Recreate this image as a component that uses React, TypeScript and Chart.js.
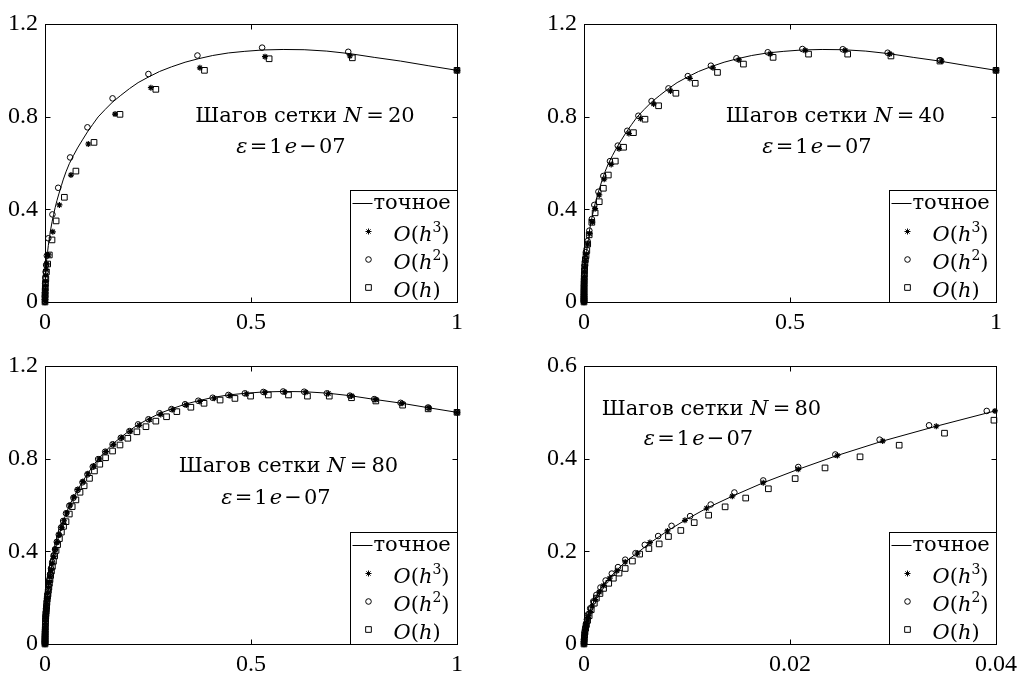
import React, { useEffect, useRef } from "react";
import { Chart, registerables } from "chart.js";
import { drawPoint } from "chart.js/helpers";

Chart.register(...registerables);

// ---------- tick labels ----------
const X_TICKS_FULL = [0, 0.5, 1];
const X_LABELS_FULL = ["0", "0.5", "1"];
const Y_TICKS_FULL = [0, 0.4, 0.8, 1.2];
const Y_LABELS_FULL = ["0", "0.4", "0.8", "1.2"];
const X_TICKS_ZOOM = [0, 0.02, 0.04];
const X_LABELS_ZOOM = ["0", "0.02", "0.04"];
const Y_TICKS_ZOOM = [0, 0.2, 0.4, 0.6];
const Y_LABELS_ZOOM = ["0", "0.2", "0.4", "0.6"];

const LEGEND_LABELS = ["точное", "O(h^3)", "O(h^2)", "O(h)"];

// ---------- exact solution ----------
const EXACT_X = [0, 0.000005, 0.00002, 0.00005, 0.00012, 0.00024, 0.00045, 0.0008, 0.0011, 0.0015, 0.0019, 0.0025, 0.0032, 0.004, 0.0052, 0.0064, 0.0081, 0.0098, 0.0119, 0.0144, 0.0174, 0.0208, 0.0246, 0.029, 0.0342, 0.0399, 0.044, 0.051, 0.059, 0.069, 0.079, 0.091, 0.103, 0.116, 0.129, 0.146, 0.164, 0.184, 0.205, 0.226, 0.251, 0.278, 0.307, 0.34, 0.372, 0.407, 0.445, 0.485, 0.53, 0.578, 0.629, 0.684, 0.74, 0.799, 0.863, 0.93, 1];
const EXACT_Y = [0, 0.004, 0.011, 0.02, 0.032, 0.045, 0.062, 0.084, 0.098, 0.115, 0.128, 0.143, 0.16, 0.177, 0.197, 0.218, 0.244, 0.267, 0.293, 0.319, 0.348, 0.377, 0.407, 0.438, 0.47, 0.503, 0.527, 0.562, 0.597, 0.632, 0.665, 0.7, 0.734, 0.767, 0.799, 0.831, 0.863, 0.892, 0.921, 0.947, 0.971, 0.995, 1.015, 1.035, 1.05, 1.064, 1.075, 1.082, 1.088, 1.09, 1.089, 1.083, 1.072, 1.056, 1.04, 1.02, 1];

// ---------- N = 20 ----------
const S20_X = [0, 0.00001, 0.00003, 0.0001, 0.0002, 0.0004, 0.0008, 0.0015, 0.0027, 0.0045, 0.0087, 0.019, 0.035, 0.063, 0.105, 0.17, 0.257, 0.376, 0.534, 0.74, 1];
const S20_Y = [0, 0.01, 0.02, 0.035, 0.05, 0.07, 0.09, 0.115, 0.14, 0.165, 0.203, 0.303, 0.419, 0.548, 0.682, 0.811, 0.925, 1.011, 1.059, 1.062, 1];
const C20_X = [0, 0.00001, 0.00003, 0.0001, 0.0002, 0.0004, 0.0008, 0.0015, 0.0027, 0.0045, 0.008, 0.018, 0.032, 0.061, 0.103, 0.164, 0.251, 0.37, 0.527, 0.736, 1];
const C20_Y = [0, 0.012, 0.025, 0.04, 0.06, 0.08, 0.105, 0.13, 0.16, 0.2, 0.275, 0.378, 0.493, 0.624, 0.754, 0.879, 0.984, 1.064, 1.098, 1.08, 1];
const Q20_X = [0, 0.0001, 0.0002, 0.0004, 0.0007, 0.0012, 0.002, 0.0035, 0.0065, 0.0105, 0.017, 0.027, 0.047, 0.075, 0.119, 0.182, 0.269, 0.387, 0.544, 0.746, 1];
const Q20_Y = [0, 0.02, 0.03, 0.045, 0.06, 0.08, 0.1, 0.13, 0.164, 0.203, 0.268, 0.35, 0.452, 0.565, 0.689, 0.81, 0.918, 1, 1.05, 1.054, 1];

// ---------- N = 40 ----------
const S40_X = [0, 0.0000001, 0.0000005, 0.000001, 0.000003, 0.000006, 0.00001, 0.00002, 0.000035, 0.00006, 0.0001, 0.00016, 0.00025, 0.0004, 0.0006, 0.0009, 0.0014, 0.002, 0.003, 0.0047, 0.009, 0.0135, 0.02, 0.027, 0.037, 0.049, 0.066, 0.085, 0.109, 0.137, 0.169, 0.21, 0.257, 0.313, 0.376, 0.452, 0.537, 0.634, 0.742, 0.868, 1];
const S40_Y = [0, 0.001, 0.003, 0.005, 0.008, 0.012, 0.016, 0.022, 0.029, 0.036, 0.045, 0.055, 0.066, 0.08, 0.093, 0.11, 0.13, 0.15, 0.178, 0.205, 0.25, 0.295, 0.345, 0.403, 0.462, 0.53, 0.594, 0.662, 0.727, 0.792, 0.855, 0.911, 0.965, 1.011, 1.045, 1.071, 1.086, 1.086, 1.071, 1.04, 1];
const C40_X = [0, 0.0000001, 0.0000005, 0.000001, 0.000003, 0.000006, 0.00001, 0.00002, 0.000035, 0.00006, 0.0001, 0.00016, 0.00025, 0.0004, 0.0006, 0.0009, 0.0014, 0.002, 0.003, 0.0045, 0.0085, 0.013, 0.019, 0.025, 0.035, 0.047, 0.063, 0.082, 0.105, 0.132, 0.164, 0.205, 0.252, 0.308, 0.37, 0.446, 0.53, 0.628, 0.737, 0.864, 1];
const C40_Y = [0, 0.002, 0.004, 0.006, 0.01, 0.014, 0.018, 0.025, 0.032, 0.04, 0.05, 0.06, 0.072, 0.087, 0.1, 0.118, 0.138, 0.158, 0.185, 0.215, 0.263, 0.308, 0.358, 0.419, 0.476, 0.544, 0.608, 0.675, 0.739, 0.804, 0.867, 0.922, 0.975, 1.02, 1.052, 1.078, 1.092, 1.091, 1.076, 1.044, 1];
const Q40_X = [0, 0.000001, 0.000004, 0.00001, 0.00002, 0.00004, 0.00007, 0.00012, 0.0002, 0.00032, 0.0005, 0.00075, 0.0011, 0.0016, 0.0023, 0.0033, 0.005, 0.0068, 0.009, 0.0126, 0.019, 0.027, 0.037, 0.047, 0.059, 0.076, 0.096, 0.12, 0.148, 0.181, 0.223, 0.27, 0.324, 0.387, 0.459, 0.545, 0.64, 0.745, 0.864, 1];
const Q40_Y = [0, 0.008, 0.016, 0.025, 0.034, 0.044, 0.055, 0.066, 0.078, 0.09, 0.104, 0.118, 0.134, 0.15, 0.166, 0.183, 0.2, 0.222, 0.25, 0.29, 0.344, 0.385, 0.433, 0.491, 0.548, 0.608, 0.668, 0.731, 0.789, 0.847, 0.901, 0.944, 0.991, 1.027, 1.056, 1.07, 1.07, 1.062, 1.04, 1];

// ---------- N = 80 (full range and zoomed panel) ----------
const S80_X = [0, 0.000002, 0.000005, 0.00001, 0.00002, 0.00003, 0.00005, 0.00008, 0.00012, 0.00017, 0.00024, 0.00033, 0.00045, 0.0006, 0.0008, 0.0011, 0.0015, 0.0019, 0.0025, 0.0032, 0.004, 0.0052, 0.0064, 0.0081, 0.0098, 0.0119, 0.0144, 0.0174, 0.0208, 0.0246, 0.029, 0.0342, 0.0399, 0.046, 0.053, 0.061, 0.07, 0.08, 0.092, 0.104, 0.118, 0.132, 0.148, 0.166, 0.186, 0.207, 0.229, 0.254, 0.281, 0.31, 0.343, 0.376, 0.411, 0.449, 0.489, 0.534, 0.582, 0.633, 0.688, 0.744, 0.803, 0.867, 0.932, 1];
const S80_Y = [0, 0.002, 0.004, 0.007, 0.011, 0.014, 0.019, 0.025, 0.031, 0.037, 0.044, 0.052, 0.061, 0.07, 0.082, 0.096, 0.112, 0.126, 0.142, 0.158, 0.177, 0.196, 0.219, 0.244, 0.267, 0.293, 0.319, 0.348, 0.377, 0.407, 0.438, 0.47, 0.503, 0.532, 0.566, 0.6, 0.634, 0.667, 0.701, 0.735, 0.768, 0.799, 0.83, 0.861, 0.89, 0.918, 0.944, 0.968, 0.991, 1.012, 1.032, 1.047, 1.061, 1.072, 1.08, 1.086, 1.088, 1.087, 1.081, 1.071, 1.055, 1.039, 1.019, 1];
const C80_X = [0, 0.000003, 0.00001, 0.00003, 0.00006, 0.00011, 0.00018, 0.00028, 0.0004, 0.0006, 0.0009, 0.0012, 0.0016, 0.0021, 0.0027, 0.0033, 0.004, 0.005, 0.0059, 0.0072, 0.0085, 0.0103, 0.0123, 0.0146, 0.0174, 0.0208, 0.0244, 0.0287, 0.0335, 0.0391, 0.044, 0.051, 0.059, 0.069, 0.079, 0.091, 0.103, 0.116, 0.129, 0.146, 0.164, 0.184, 0.205, 0.226, 0.251, 0.278, 0.307, 0.34, 0.372, 0.407, 0.445, 0.485, 0.53, 0.578, 0.629, 0.684, 0.74, 0.799, 0.863, 0.93, 1];
const C80_Y = [0, 0.005, 0.01, 0.018, 0.026, 0.034, 0.043, 0.053, 0.064, 0.077, 0.092, 0.106, 0.122, 0.137, 0.152, 0.166, 0.182, 0.196, 0.214, 0.233, 0.255, 0.276, 0.301, 0.327, 0.353, 0.382, 0.409, 0.441, 0.472, 0.503, 0.531, 0.564, 0.597, 0.631, 0.665, 0.698, 0.732, 0.765, 0.798, 0.83, 0.862, 0.89, 0.919, 0.948, 0.97, 0.996, 1.014, 1.035, 1.05, 1.063, 1.075, 1.082, 1.088, 1.09, 1.089, 1.082, 1.072, 1.057, 1.041, 1.021, 1];
const Q80_X = [0, 0.00001, 0.00003, 0.00006, 0.0001, 0.00016, 0.00024, 0.00035, 0.0005, 0.0007, 0.001, 0.0012, 0.00155, 0.0019, 0.0024, 0.00285, 0.0034, 0.004, 0.0047, 0.0054, 0.0063, 0.0073, 0.0082, 0.0094, 0.0107, 0.0121, 0.0137, 0.0157, 0.0179, 0.0205, 0.0234, 0.0268, 0.0306, 0.035, 0.0398, 0.045, 0.051, 0.059, 0.066, 0.075, 0.085, 0.095, 0.108, 0.12, 0.133, 0.147, 0.164, 0.182, 0.201, 0.223, 0.245, 0.269, 0.295, 0.32, 0.354, 0.386, 0.425, 0.461, 0.499, 0.542, 0.591, 0.637, 0.69, 0.744, 0.803, 0.868, 0.93, 1];
const Q80_Y = [0, 0.006, 0.012, 0.019, 0.026, 0.034, 0.042, 0.051, 0.061, 0.074, 0.088, 0.099, 0.109, 0.12, 0.131, 0.142, 0.153, 0.163, 0.179, 0.194, 0.206, 0.216, 0.232, 0.245, 0.262, 0.278, 0.296, 0.315, 0.335, 0.357, 0.38, 0.404, 0.429, 0.455, 0.483, 0.508, 0.528, 0.561, 0.593, 0.622, 0.655, 0.683, 0.715, 0.747, 0.776, 0.804, 0.833, 0.859, 0.888, 0.916, 0.938, 0.962, 0.981, 1.003, 1.022, 1.039, 1.053, 1.06, 1.07, 1.075, 1.075, 1.07, 1.07, 1.063, 1.049, 1.031, 1.015, 1];

// ---------- styling ----------
const TEXT_FONT = '"DejaVu Serif", "Liberation Serif", serif';
const TICK_FONT = '"Liberation Serif", "DejaVu Serif", serif';
const TEXT_SIZE = 21;

type Seg = { t: string; it?: boolean; sup?: boolean };

function segFont(s: Seg, size: number) {
  const sz = s.sup ? Math.round(size * 0.66) : size;
  return `${s.it ? "italic " : ""}${sz}px ${TEXT_FONT}`;
}

function drawRich(ctx: CanvasRenderingContext2D, segs: Seg[], x: number, y: number, align: "left" | "center", size: number) {
  let total = 0;
  for (const s of segs) {
    ctx.font = segFont(s, size);
    total += ctx.measureText(s.t).width;
  }
  let cx = align === "center" ? x - total / 2 : x;
  ctx.textAlign = "left";
  ctx.textBaseline = "alphabetic";
  for (const s of segs) {
    ctx.font = segFont(s, size);
    ctx.fillText(s.t, cx, s.sup ? y - size * 0.4 : y);
    cx += ctx.measureText(s.t).width;
  }
}

function orderSegs(label: string): Seg[] {
  const m = label.match(/^O\(h(?:\^(\d))?\)$/);
  if (!m) return [{ t: label }];
  const segs: Seg[] = [{ t: "O", it: true }, { t: "(" }, { t: "h", it: true }];
  if (m[1]) segs.push({ t: m[1], sup: true });
  segs.push({ t: ")" });
  return segs;
}

const pts = (xs: number[], ys: number[]) => xs.map((x, i) => ({ x, y: ys[i] }));

interface PanelCfg {
  left: number;
  top: number;
  w: number;
  h: number;
  area: { left: number; top: number; right: number; bottom: number };
  xMax: number;
  yMax: number;
  xTicks: number[];
  xLabels: string[];
  yTicks: number[];
  yLabels: string[];
  stars: [number[], number[]];
  circles: [number[], number[]];
  squares: [number[], number[]];
  n: string;
  t1: { x: number; y: number };
  t2: { x: number; y: number };
}

const PANELS: PanelCfg[] = [
  {
    left: 0, top: 0, w: 512, h: 337,
    area: { left: 45, top: 24, right: 457, bottom: 302 },
    xMax: 1, yMax: 1.2,
    xTicks: X_TICKS_FULL, xLabels: X_LABELS_FULL, yTicks: Y_TICKS_FULL, yLabels: Y_LABELS_FULL,
    stars: [S20_X, S20_Y], circles: [C20_X, C20_Y], squares: [Q20_X, Q20_Y],
    n: "20", t1: { x: 305, y: 122 }, t2: { x: 291, y: 153 },
  },
  {
    left: 512, top: 0, w: 513, h: 337,
    area: { left: 72, top: 24, right: 484, bottom: 302 },
    xMax: 1, yMax: 1.2,
    xTicks: X_TICKS_FULL, xLabels: X_LABELS_FULL, yTicks: Y_TICKS_FULL, yLabels: Y_LABELS_FULL,
    stars: [S40_X, S40_Y], circles: [C40_X, C40_Y], squares: [Q40_X, Q40_Y],
    n: "40", t1: { x: 323.5, y: 122 }, t2: { x: 305, y: 153 },
  },
  {
    left: 0, top: 337, w: 512, h: 338,
    area: { left: 45, top: 29, right: 457, bottom: 307 },
    xMax: 1, yMax: 1.2,
    xTicks: X_TICKS_FULL, xLabels: X_LABELS_FULL, yTicks: Y_TICKS_FULL, yLabels: Y_LABELS_FULL,
    stars: [S80_X, S80_Y], circles: [C80_X, C80_Y], squares: [Q80_X, Q80_Y],
    n: "80", t1: { x: 288.5, y: 135 }, t2: { x: 276, y: 166.5 },
  },
  {
    left: 512, top: 337, w: 513, h: 338,
    area: { left: 72, top: 29, right: 484, bottom: 307 },
    xMax: 0.04, yMax: 0.6,
    xTicks: X_TICKS_ZOOM, xLabels: X_LABELS_ZOOM, yTicks: Y_TICKS_ZOOM, yLabels: Y_LABELS_ZOOM,
    stars: [S80_X, S80_Y], circles: [C80_X, C80_Y], squares: [Q80_X, Q80_Y],
    n: "80", t1: { x: 199.5, y: 78 }, t2: { x: 186.5, y: 108 },
  },
];

const STAR_PT = { pointStyle: "star", radius: 3, borderWidth: 1.2, rotation: 0 };
const CIRCLE_PT = { pointStyle: "circle", radius: 2.8, borderWidth: 1, rotation: 0 };
const SQUARE_PT = { pointStyle: "rect", radius: 4, borderWidth: 1, rotation: 0 };

function Panel({ cfg }: { cfg: PanelCfg }) {
  const ref = useRef<HTMLCanvasElement>(null);
  useEffect(() => {
    const canvas = ref.current;
    if (!canvas) return;
    const a = cfg.area;
    const framePlugin = {
      id: "frame" + cfg.left + "_" + cfg.top,
      afterDraw(chart: any) {
        const ctx: CanvasRenderingContext2D = chart.ctx;
        const ca = chart.chartArea;
        const xs = chart.scales.x;
        const ys = chart.scales.y;
        const L = Math.floor(ca.left) + 0.5;
        const R = Math.floor(ca.right) + 0.5;
        const T = Math.floor(ca.top) + 0.5;
        const B = Math.floor(ca.bottom) + 0.5;
        ctx.save();
        ctx.strokeStyle = "#000";
        ctx.fillStyle = "#000";
        ctx.lineWidth = 1;
        ctx.strokeRect(L, T, R - L, B - T);
        const tl = 5;
        ctx.beginPath();
        for (const v of cfg.xTicks) {
          const px = Math.round(xs.getPixelForValue(v)) + 0.5;
          ctx.moveTo(px, B); ctx.lineTo(px, B - tl);
          ctx.moveTo(px, T); ctx.lineTo(px, T + tl);
        }
        for (const v of cfg.yTicks) {
          const py = Math.round(ys.getPixelForValue(v)) + 0.5;
          ctx.moveTo(L, py); ctx.lineTo(L + tl, py);
          ctx.moveTo(R, py); ctx.lineTo(R - tl, py);
        }
        ctx.stroke();

        // annotation
        drawRich(ctx, [{ t: "Шагов сетки " }, { t: "N", it: true }, { t: "\u2009=\u2009" }, { t: cfg.n }], cfg.t1.x, cfg.t1.y, "center", TEXT_SIZE);
        drawRich(ctx, [{ t: "ε", it: true }, { t: "\u200A=\u200A" }, { t: "1" }, { t: "\u200A" }, { t: "e", it: true }, { t: "\u200A−\u200A" }, { t: "07" }], cfg.t2.x, cfg.t2.y, "center", TEXT_SIZE);

        // legend
        const lw = 107, lh = 112;
        const lx = R - lw, ly = B - lh;
        ctx.fillStyle = "#fff";
        ctx.fillRect(lx, ly, lw, lh);
        ctx.strokeStyle = "#000";
        ctx.strokeRect(lx, ly, lw, lh);
        ctx.fillStyle = "#000";
        ctx.beginPath();
        ctx.moveTo(lx + 2, ly + 13);
        ctx.lineTo(lx + 22, ly + 13);
        ctx.stroke();
        drawRich(ctx, [{ t: LEGEND_LABELS[0] }], lx + 23, ly + 18.5, "left", TEXT_SIZE);
        const markers = [STAR_PT, CIRCLE_PT, SQUARE_PT];
        for (let i = 0; i < 3; i++) {
          const cy = ly + 41 + i * 28;
          ctx.strokeStyle = "#000";
          ctx.fillStyle = "rgba(0,0,0,0)";
          drawPoint(ctx, markers[i] as any, lx + 18, cy);
          ctx.fillStyle = "#000";
          drawRich(ctx, orderSegs(LEGEND_LABELS[i + 1]), lx + 43, ly + 50 + i * 28, "left", TEXT_SIZE);
        }
        ctx.restore();
      },
    };

    const markerDs = (label: string, data: any, p: any) => ({
      label,
      data,
      showLine: false,
      pointStyle: p.pointStyle,
      pointRadius: p.radius,
      pointBorderWidth: p.borderWidth,
      pointBorderColor: "#000",
      pointBackgroundColor: "rgba(0,0,0,0)",
      borderColor: "#000",
      backgroundColor: "rgba(0,0,0,0)",
      clip: 6,
    });

    const chart = new Chart(canvas, {
      type: "scatter",
      data: {
        datasets: [
          {
            label: LEGEND_LABELS[0],
            data: pts(EXACT_X, EXACT_Y),
            showLine: true,
            borderColor: "#000",
            borderWidth: 1,
            pointRadius: 0,
            tension: 0,
            clip: 0,
          } as any,
          markerDs(LEGEND_LABELS[1], pts(cfg.stars[0], cfg.stars[1]), STAR_PT),
          markerDs(LEGEND_LABELS[2], pts(cfg.circles[0], cfg.circles[1]), CIRCLE_PT),
          markerDs(LEGEND_LABELS[3], pts(cfg.squares[0], cfg.squares[1]), SQUARE_PT),
        ],
      },
      options: {
        animation: false,
        responsive: false,
        maintainAspectRatio: false,
        devicePixelRatio: 1,
        events: [],
        layout: {
          autoPadding: false,
          padding: { left: 0, top: a.top, right: cfg.w - a.right, bottom: 0 },
        },
        plugins: { legend: { display: false }, tooltip: { enabled: false } },
        scales: {
          x: {
            type: "linear",
            min: 0,
            max: cfg.xMax,
            grid: { display: false, drawTicks: false },
            border: { display: false },
            ticks: {
              color: "#000",
              font: { family: TICK_FONT, size: 24 },
              padding: 6,
              maxRotation: 0,
              autoSkip: false,
              callback: (_v: any, i: number) => cfg.xLabels[i],
            },
            afterBuildTicks: (s: any) => {
              s.ticks = cfg.xTicks.map((v) => ({ value: v }));
            },
            afterFit: (s: any) => {
              s.height = cfg.h - a.bottom;
            },
          },
          y: {
            type: "linear",
            min: 0,
            max: cfg.yMax,
            grid: { display: false, drawTicks: false },
            border: { display: false },
            ticks: {
              color: "#000",
              font: { family: TICK_FONT, size: 24 },
              padding: 7,
              autoSkip: false,
              callback: (_v: any, i: number) => cfg.yLabels[i],
            },
            afterBuildTicks: (s: any) => {
              s.ticks = cfg.yTicks.map((v) => ({ value: v }));
            },
            afterFit: (s: any) => {
              s.width = a.left;
            },
          },
        },
      } as any,
      plugins: [framePlugin],
    });
    return () => chart.destroy();
  }, [cfg]);
  return (
    <canvas
      ref={ref}
      width={cfg.w}
      height={cfg.h}
      style={{ position: "absolute", left: cfg.left, top: cfg.top, width: cfg.w, height: cfg.h }}
    />
  );
}

export default function App() {
  return (
    <div style={{ position: "fixed", left: 0, top: 0, width: 1025, height: 675, background: "#fff", overflow: "hidden" }}>
      {PANELS.map((p, i) => (
        <Panel key={i} cfg={p} />
      ))}
    </div>
  );
}
